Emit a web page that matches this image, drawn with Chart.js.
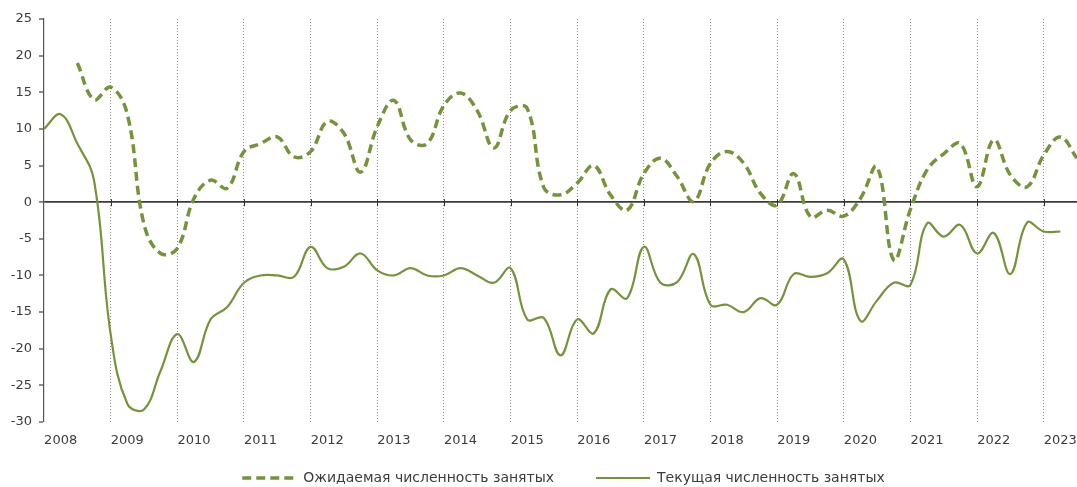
<!DOCTYPE html>
<html>
<head>
<meta charset="utf-8">
<script src="https://cdn.jsdelivr.net/npm/chart.js@4"></script>
<style>
  html, body { margin: 0; padding: 0; background: #fff; }
</style>
</head>
<body>
<canvas id="myChart" width="1077" height="487"></canvas>
<script>
// quarterly data, 2008 Q1 .. 2023 Q3
const years = ['2008', '2009', '2010', '2011', '2012', '2013', '2014', '2015',
               '2016', '2017', '2018', '2019', '2020', '2021', '2022', '2023'];
const quarters = years.flatMap(y => ['I', 'II', 'III', 'IV'].map(q => q + ' кв. ' + y)).slice(0, 63);

// Ожидаемая численность занятых
const expected = [
  null, null, 19, 14, 15.7, 12, -3, -7,
  -6.3, 0.5, 3, 1.9, 6.9, 8, 8.9, 6.2,
  6.9, 11, 9.4, 4.1, 10.3, 13.9, 8.5, 8,
  13.2, 14.9, 12.5, 7.4, 12.5, 12.8, 2, 1,
  2.6, 5, 1, -1.1, 3.9, 6, 3.5, 0.1,
  5.3, 6.9, 5.3, 1.2, -0.4, 3.9, -2, -1.1,
  -1.9, 0.5, 4.8, -7.9, -1, 4.4, 6.6, 8,
  2.1, 8.5, 3.7, 2.1, 6.4, 8.9, 6
];

// Текущая численность занятых
const current = [
  10, 12, 8, 3, -18, -27.5, -28.3, -23,
  -18, -21.8, -16, -14.3, -11, -10, -10, -10.2,
  -6.1, -9, -8.8, -7, -9.3, -10, -9, -10,
  -10, -9, -10, -11, -9, -16, -15.8, -20.9,
  -16, -17.9, -11.9, -13.1, -6.1, -11, -10.9, -7.1,
  -14, -14, -15, -13.1, -14, -9.8, -10.2, -9.7,
  -7.8, -16.2, -13.4, -11, -11.3, -2.9, -4.7, -3.1,
  -7, -4.2, -9.8, -2.8, -4, -4
];

const yTicks = { min: -30, max: 25, step: 5 };

const green = '#76933c';
const textColor = '#3c3c3c';
const fontFamily = '"DejaVu Sans", sans-serif';

// small tick marks on the zero line at each year boundary
const zeroTicks = {
  id: 'zeroTicks',
  beforeDatasetsDraw(chart) {
    const ctx = chart.ctx;
    const x = chart.scales.x;
    const y0 = chart.scales.y.getPixelForValue(0);
    ctx.save();
    ctx.strokeStyle = '#333';
    ctx.lineWidth = 1;
    for (let i = 4; i < quarters.length; i += 4) {
      const px = Math.round(x.getPixelForValue(i)) + 0.5;
      ctx.beginPath();
      ctx.moveTo(px, y0 - 3);
      ctx.lineTo(px, y0 + 4);
      ctx.stroke();
    }
    ctx.restore();
  }
};

// the legend keeps wide gaps between items, so pull it up closer to the axis labels
const legendPlace = {
  id: 'legendPlace',
  afterLayout(chart) {
    const lg = chart.legend;
    const dy = 471 - (lg.top + lg.options.labels.padding);
    const dx = 25;
    lg.top += dy;
    lg.bottom = chart.height;
    lg.left += dx; lg.right += dx;
  }
};

new Chart(document.getElementById('myChart'), {
  type: 'line',
  data: {
    labels: quarters,
    datasets: [{
      label: 'Ожидаемая численность занятых',
      data: expected,
      borderColor: green,
      backgroundColor: green,
      borderWidth: 3.5,
      borderDash: [9, 5],
      pointRadius: 0,
      tension: 0.4,
      fill: false
    }, {
      label: 'Текущая численность занятых',
      data: current,
      borderColor: green,
      backgroundColor: green,
      borderWidth: 2.2,
      pointRadius: 0,
      tension: 0.4,
      fill: false
    }]
  },
  options: {
    responsive: false,
    animation: false,
    layout: { padding: { left: 0, right: 0, top: 19, bottom: 0 } },
    plugins: {
      tooltip: { enabled: false },
      legend: {
        position: 'bottom',
        maxHeight: 37,
        labels: {
          usePointStyle: true,
          pointStyle: 'line',
          pointStyleWidth: 54,
          padding: 42,
          color: textColor,
          font: { family: fontFamily, size: 14 },
          generateLabels: chart =>
            Chart.defaults.plugins.legend.labels.generateLabels(chart).map(item => ({
              ...item,
              lineDash: chart.data.datasets[item.datasetIndex].borderDash || [],
              lineWidth: chart.data.datasets[item.datasetIndex].borderWidth
            }))
        }
      }
    },
    scales: {
      x: {
        type: 'category',
        offset: false,
        afterFit: s => { s.height = 28; },
        border: { display: false, dash: [1, 2] },
        grid: {
          drawTicks: true,
          tickLength: 11,
          tickColor: 'transparent',
          lineWidth: 1,
          color: c => (c.index > 0 && c.index % 4 === 0) ? '#8a8a8a' : 'transparent'
        },
        ticks: {
          autoSkip: false,
          maxRotation: 0,
          padding: 0,
          color: textColor,
          font: { family: fontFamily, size: 13 },
          callback: (v, i) => i % 4 === 1 ? quarters[i].slice(-4) : ''
        }
      },
      y: {
        min: yTicks.min,
        max: yTicks.max,
        afterFit: s => { s.width = 44; },
        border: { display: true, color: '#555', width: 1.2 },
        grid: {
          drawTicks: true,
          tickLength: 5,
          tickColor: '#444',
          tickWidth: 1.2,
          lineWidth: c => c.tick && c.tick.value === 0 ? 1.8 : 0,
          color: c => c.tick && c.tick.value === 0 ? '#3a3a3a' : 'transparent'
        },
        ticks: {
          stepSize: yTicks.step,
          padding: 7,
          color: textColor,
          font: { family: fontFamily, size: 13 }
        }
      }
    }
  },
  plugins: [zeroTicks, legendPlace]
});
</script>
</body>
</html>
